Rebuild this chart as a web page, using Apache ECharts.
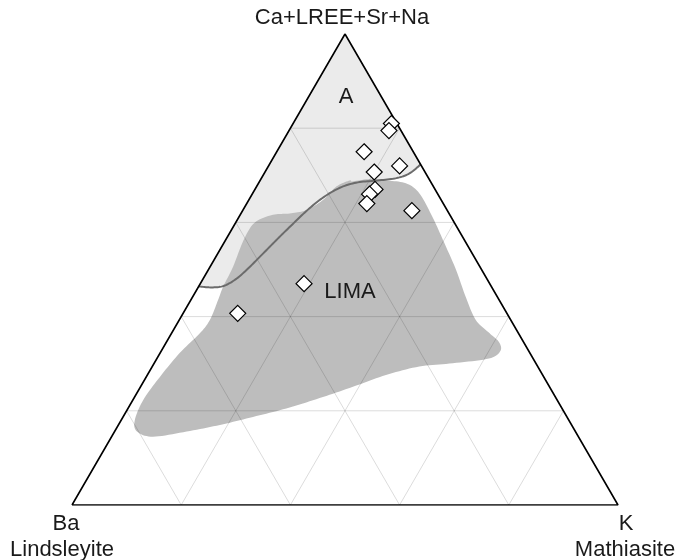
<!DOCTYPE html>
<html>
<head>
<meta charset="utf-8">
<script src="https://cdn.jsdelivr.net/npm/echarts@6/dist/echarts.min.js"></script>
<style>
html, body { margin: 0; padding: 0; background: #fff; }
#chart { width: 677px; height: 560px; }
</style>
</head>
<body>
<div id="chart"></div>
<script>
// compositions in % : Ba (Lindsleyite), K (Mathiasite), Ca+LREE+Sr+Na
var sampleBa = [1, 2.2, 9, 4, 9.3, 11, 12.5, 14, 6.5, 34, 49.3];
var sampleK  = [18, 18.3, 16, 24, 20, 22, 21.5, 22, 31, 19, 10];
var sampleCa = [81, 79.5, 75, 72, 70.7, 67, 66, 64, 62.5, 47, 40.7];

// boundary of field A (left edge -> right edge), Ba = 100 - K - Ca
var fieldA_K  = [0, 2.5, 4.5, 6.0, 7.1, 8.2, 9.4, 10.7, 12.0, 13.6, 15.6, 18.1, 21.5, 24.7, 26.6, 27.7];
var fieldA_Ca = [46.4, 46.2, 46.5, 47.9, 50.1, 53.1, 56.5, 59.9, 63.0, 65.6, 67.5, 68.5, 68.9, 69.4, 70.4, 72.3];

// outline of the LIMA field
var lima_K  = [16.4, 17.0, 19.9, 23.1, 27.0, 30.5, 35.4, 40.4, 45.4, 50.0, 54.3, 58.2, 60.9, 62.1, 60.8, 54.7, 48.9, 43.7, 38.9, 34.0,
               29.0, 23.8, 18.6, 13.2, 7.6, 4.1, 2.5, 1.9, 2.5, 3.6, 5.2, 5.6, 5.0, 4.5, 4.2, 3.3, 3.5, 6.0, 8.9, 11.6, 13.6, 14.6];
var lima_Ca = [68.9, 68.7, 69.2, 68.9, 68.3, 66.2, 61.2, 55.6, 49.9, 44.2, 39.3, 36.5, 34.6, 32.7, 31.1, 30.1, 29.4, 27.6, 25.1, 22.7,
               20.5, 18.7, 17.0, 15.6, 14.5, 15.6, 18.0, 22.3, 27.2, 32.3, 36.5, 39.3, 43.5, 46.4, 50.6, 56.3, 60.0, 61.6, 61.9, 62.6, 64.8, 67.6];

var gridLevels = [20, 40, 60, 80];

// ternary (K, Ca) -> cartesian, triangle base 0..1, apex at y = 1
function tern(k, ca) {
    return [(k + ca / 2) / 100, ca / 100];
}

// catmull-rom through pixel points
function spline(pts, closed, steps) {
    var out = [], n = pts.length;
    var segs = closed ? n : n - 1;
    for (var i = 0; i < segs; i++) {
        var p0 = pts[closed ? (i - 1 + n) % n : Math.max(i - 1, 0)];
        var p1 = pts[i];
        var p2 = pts[(i + 1) % n];
        var p3 = pts[closed ? (i + 2) % n : Math.min(i + 2, n - 1)];
        for (var s = 0; s < steps; s++) {
            var t = s / steps, t2 = t * t, t3 = t2 * t;
            var q = [];
            for (var j = 0; j < 2; j++) {
                q.push(0.5 * (2 * p1[j] + (-p0[j] + p2[j]) * t +
                    (2 * p0[j] - 5 * p1[j] + 4 * p2[j] - p3[j]) * t2 +
                    (-p0[j] + 3 * p1[j] - 3 * p2[j] + p3[j]) * t3));
            }
            out.push(q);
        }
    }
    if (!closed) out.push(pts[n - 1]);
    return out;
}

function toPx(api, ks, cas) {
    return ks.map(function (k, i) { return api.coord(tern(k, cas[i])); });
}

var series = [];

// field A (light)
series.push({
    type: 'custom', z: 1, silent: true, data: [[0]],
    renderItem: function (params, api) {
        var pts = spline(toPx(api, fieldA_K, fieldA_Ca), false, 10);
        pts.push(api.coord(tern(0, 100)));
        return { type: 'polygon', shape: { points: pts }, style: { fill: '#ebebeb' } };
    }
});

// LIMA field (dark)
series.push({
    type: 'custom', z: 2, silent: true, data: [[0]],
    renderItem: function (params, api) {
        var pts = spline(toPx(api, lima_K, lima_Ca), true, 10);
        return { type: 'polygon', shape: { points: pts }, style: { fill: '#bdbdbd' } };
    }
});

// grid lines parallel to each side
gridLevels.forEach(function (g) {
    var r = 100 - g;
    var segs = [
        [tern(0, g), tern(r, g)],          // constant Ca
        [tern(g, 0), tern(g, r)],          // constant K
        [tern(r, 0), tern(0, r)]           // constant Ba
    ];
    segs.forEach(function (s) {
        series.push({
            type: 'line', z: 3, silent: true, symbol: 'none', data: s,
            lineStyle: { color: 'rgba(0,0,0,0.14)', width: 1 }
        });
    });
});

// boundary curve of field A
series.push({
    type: 'custom', z: 4, silent: true, data: [[0]],
    renderItem: function (params, api) {
        var pts = spline(toPx(api, fieldA_K, fieldA_Ca), false, 10);
        return { type: 'polyline', shape: { points: pts }, style: { stroke: '#6b6b6b', lineWidth: 2, fill: null } };
    }
});

// triangle outline
series.push({
    type: 'line', z: 5, silent: true, symbol: 'none',
    data: [tern(0, 0), tern(100, 0), tern(0, 100), tern(0, 0)],
    lineStyle: { color: '#000', width: 1.6 }
});

// samples
series.push({
    type: 'scatter', z: 6, symbol: 'diamond', symbolSize: 16,
    data: sampleK.map(function (k, i) { return tern(k, sampleCa[i]); }),
    itemStyle: { color: '#fff', borderColor: '#000', borderWidth: 1.2, opacity: 1 }
});

var font = { fontFamily: 'Liberation Sans, Arial, sans-serif', fontSize: 22, fill: '#1a1a1a', textAlign: 'center', textVerticalAlign: 'middle' };
function label(text, x, y) {
    return { type: 'text', x: x, y: y, z: 10, style: Object.assign({ text: text }, font) };
}

var chart = echarts.init(document.getElementById('chart'), null, { renderer: 'canvas' });
chart.setOption({
    animation: false,
    grid: { left: 72, right: 59, top: 34, bottom: 55 },
    xAxis: { type: 'value', min: 0, max: 1, show: false },
    yAxis: { type: 'value', min: 0, max: 1, show: false },
    series: series,
    graphic: [
        label('Ca+LREE+Sr+Na', 342, 18),
        label('A', 346, 97),
        label('LIMA', 350, 292),
        label('Ba', 66, 524),
        label('Lindsleyite', 62, 550),
        label('K', 626, 524),
        label('Mathiasite', 625, 550)
    ]
});
</script>
</body>
</html>
